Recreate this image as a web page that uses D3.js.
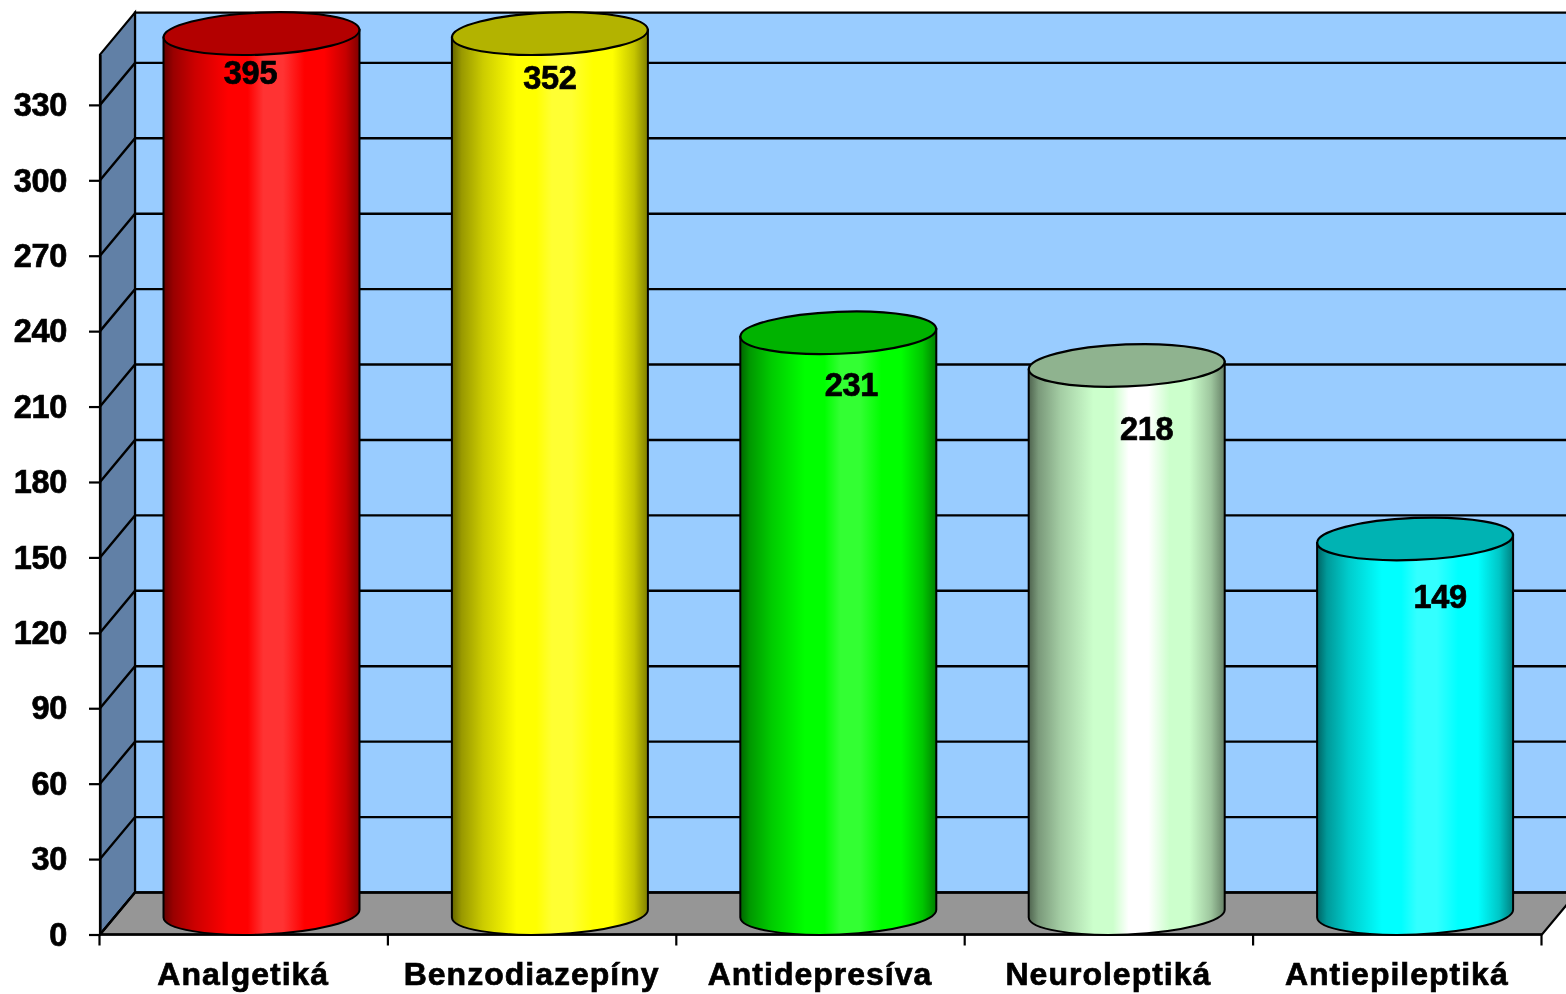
<!DOCTYPE html>
<html><head><meta charset="utf-8">
<script src="https://cdnjs.cloudflare.com/ajax/libs/d3/7.8.5/d3.min.js"></script>
<style>html,body{margin:0;padding:0;background:#fff;overflow:hidden}svg{display:block}
text{font-family:"Liberation Sans",Arial,sans-serif;font-weight:bold;fill:#000;stroke:#000;stroke-width:0.7px}</style></head>
<body><svg id="c" width="1566" height="994"></svg>
<script>
const categories = ["Analgetiká","Benzodiazepíny","Antidepresíva","Neuroleptiká","Antiepileptiká"];
const values = [395,352,231,218,149];
const yTicks = [0,30,60,90,120,150,180,210,240,270,300,330];
const bodyColors = ["#ff0000","#ffff00","#00ff00","#ccffcc","#00ffff"];
const highlightColors = ["#ff3333","#ffff33","#33ff33","#ffffff","#33ffff"];
const edgeColors = ["#800000","#808000","#008000","#668066","#008080"];
const capColors = ["#b30000","#b3b300","#00b300","#8fb38f","#00b3b3"];
// hand-placed label offsets in the original chart (dx, dy from the cap centre)
const labelNudgeX = [-11,0,13,20,25];
const labelNudgeY = [38,43,51,63,57];

const yMax = 350, depthX = 35, depthY = -42;
const left = 100, right = 1542, floorY = 934.5;
const svg = d3.select("#c");
const defs = svg.append("defs");
defs.append("filter").attr("id","soft").attr("x",0).attr("y",0).attr("width","100%").attr("height","100%")
  .attr("color-interpolation-filters","sRGB")
  .append("feGaussianBlur").attr("stdDeviation",0.6);
const root = svg.append("g").attr("filter","url(#soft)");
root.append("rect").attr("width",1566).attr("height",994).attr("fill","#fff");
const x = d3.scaleBand().domain(categories).range([left,right]);
const y = d3.scaleLinear().domain([0,yMax]).range([floorY,floorY-yMax*2.514]).clamp(true);
const topY = y(yMax);
const poly = p => "M"+p.map(d=>d.join(",")).join("L")+"Z";

// walls
root.append("path").attr("d",poly([[left+depthX,topY+depthY],[1600,topY+depthY],[1600,floorY+depthY],[left+depthX,floorY+depthY]]))
  .attr("fill","#99ccff").attr("stroke","#000").attr("stroke-width",2.2);
root.append("path").attr("d",poly([[left,topY],[left+depthX,topY+depthY],[left+depthX,floorY+depthY],[left,floorY]]))
  .attr("fill","#6180a6").attr("stroke","#000").attr("stroke-width",2.2);
root.append("path").attr("d",poly([[left,floorY],[left+depthX,floorY+depthY],[right+depthX,floorY+depthY],[right,floorY]]))
  .attr("fill","#969696").attr("stroke","#000").attr("stroke-width",2.2);

// gridlines
const grid = root.append("g").attr("fill","none").attr("stroke","#000").attr("stroke-width",2.4);
yTicks.forEach(t=>{
  grid.append("path").attr("d",`M${left},${y(t)}L${left+depthX},${y(t)+depthY}L1600,${y(t)+depthY}`);
});
// axes
const yAxis = d3.axisLeft(y).tickValues(yTicks).tickSize(11).tickPadding(22).tickSizeOuter(0);
const gy = root.append("g").attr("transform",`translate(${left},0)`).call(yAxis);
gy.select(".domain").attr("stroke","#000").attr("stroke-width",2.2);
gy.selectAll(".tick line").attr("stroke","#000").attr("stroke-width",2.2);
gy.selectAll("text").style("font-size","32.5px").style("letter-spacing","-0.3px").style("font-family",'"Liberation Sans"').style("font-weight","bold").attr("fill","#000").attr("dy","0.33em");
const gx = root.append("g").attr("transform",`translate(0,${floorY})`);
gx.append("line").attr("x1",left).attr("x2",right).attr("stroke","#000").attr("stroke-width",2.4);
const xTicks = categories.map(c=>x(c)).concat([right]);
gx.selectAll("line.t").data(xTicks).join("line").attr("class","t").attr("x1",d=>d-0.5).attr("x2",d=>d-0.5).attr("y1",0).attr("y2",11).attr("stroke","#000").attr("stroke-width",2.2);
gx.selectAll("text").data(categories).join("text").attr("x",c=>x(c)+x.bandwidth()/2-1).attr("y",50)
  .attr("text-anchor","middle").style("font-size","32px").style("letter-spacing","1px").text(c=>c);

// gradients
categories.forEach((c,i)=>{
  const g = defs.append("linearGradient").attr("id","g"+i);
  const m = t => d3.interpolateRgb(edgeColors[i],bodyColors[i])(t);
  [[0,d3.color(edgeColors[i]).darker(0.7)],[.05,m(.2)],[.16,m(.6)],[.33,bodyColors[i]],[.43,bodyColors[i]],[.51,highlightColors[i]],[.61,highlightColors[i]],[.72,bodyColors[i]],[.82,bodyColors[i]],[.93,m(.55)],[1,edgeColors[i]]]
   .forEach(s=>g.append("stop").attr("offset",s[0]).attr("stop-color",s[1]));
});

// cylinders
const rx = 98, ry = 21, tilt = -2.3, halfDrop = rx*Math.sin(-tilt*Math.PI/180);
const baseC = floorY-21;
const valueOffset = floorY - baseC;
categories.forEach((c,i)=>{
  const cx = x(c)+x.bandwidth()/2+17.3, gEl = root.append("g");
  const capC = y(values[i])-valueOffset;
  const L = cx-rx, R = cx+rx;
  gEl.append("path")
    .attr("d",`M${L},${capC+halfDrop}L${L},${baseC+halfDrop}A${rx},${ry} ${tilt} 0 0 ${R},${baseC-halfDrop}L${R},${capC-halfDrop}Z`)
    .attr("fill",`url(#g${i})`).attr("stroke","#000").attr("stroke-width",2);
  gEl.append("ellipse").attr("cx",cx).attr("cy",capC).attr("rx",rx).attr("ry",ry)
    .attr("transform",`rotate(${tilt} ${cx} ${capC})`).attr("fill",capColors[i]).attr("stroke","#000").attr("stroke-width",2.2);
  gEl.append("text").attr("x",cx+labelNudgeX[i]).attr("y",capC+labelNudgeY[i]+12)
    .attr("text-anchor","middle").style("font-size","32.5px").style("letter-spacing","-0.3px").text(values[i]);
});
</script></body></html>
